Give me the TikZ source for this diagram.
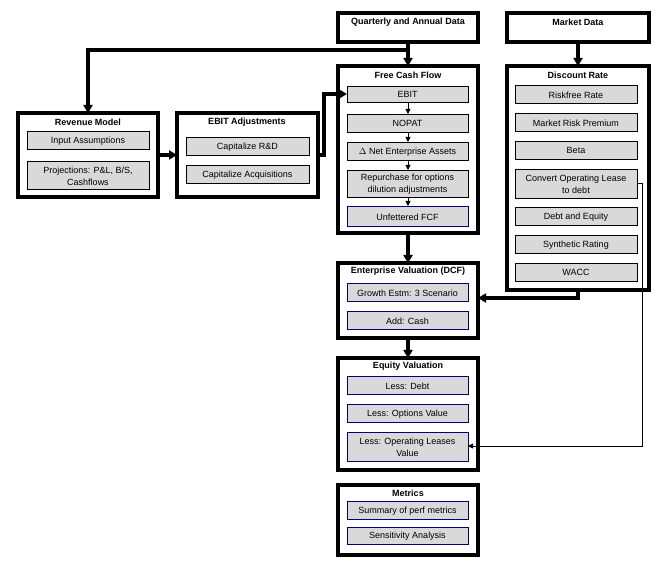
\documentclass[tikz,border=0pt]{standalone}
\usepackage{fontspec}
\setmainfont{Liberation Sans}
\usetikzlibrary{arrows.meta}
\begin{document}
\begin{tikzpicture}[x=1pt,y=-1pt,
  outer/.style={draw,line width=3.4pt},
  inner/.style={draw,fill=gray!30,line width=0.9pt},
  innerb/.style={draw=blue!45!black,fill=gray!30,line width=0.9pt},
  ttl/.style={font=\bfseries\fontsize{9}{11}\selectfont},
  txt/.style={font=\fontsize{9}{12}\selectfont,align=center},
  thick arr/.style={line width=3.4pt,-{Triangle[length=8pt,width=9pt]}},
  thin arr/.style={line width=0.9pt,-{Triangle[length=5pt,width=5pt]}}]
\useasboundingbox (0,0) rectangle (665,564);
% outer boxes
\draw[outer] (338,13) rectangle (478,42);
\node[ttl] (qat) at (408,22) {Quarterly and Annual Data};
\draw[outer] (507,13) rectangle (649,42);
\node[ttl] (mdt) at (578,22) {Market Data};
\draw[outer] (338,66) rectangle (478,233); \node[ttl] (fcft) at (408,75) {Free Cash Flow};
\draw[outer] (507,66) rectangle (649,290); \node[ttl] (drt) at (578,75) {Discount Rate};
\draw[outer] (18,113) rectangle (158,197); \node[ttl] (rmt) at (88,122) {Revenue Model};
\draw[outer] (177,113) rectangle (318,197); \node[ttl] (eat) at (247,122) {EBIT Adjustments};
\draw[outer] (338,263) rectangle (478,338); \node[ttl] (evt) at (408,271) {Enterprise Valuation (DCF)};
\draw[outer] (338,358) rectangle (478,470); \node[ttl] (eqt) at (408,366) {Equity Valuation};
\draw[outer] (338,485) rectangle (478,555); \node[ttl] (mt) at (408,493) {Metrics};
% inner boxes
\newcommand{\ib}[7]{\draw[#1] (#2,#3) rectangle (#4,#5); \node[txt] (#6) at ({(#2+#4)/2},{(#3+#5)/2+0.8}) {#7};}
\ib{inner}{347}{86}{468}{102}{ebit}{EBIT}
\ib{inner}{347}{114}{468}{132}{nopat}{NOPAT}
\ib{inner}{347}{142}{468}{160}{dnet}{$\Delta$ Net Enterprise Assets}
\ib{inner}{347}{170}{468}{197}{rep}{Repurchase for options\\dilution adjustments}
\ib{innerb}{347}{206}{468}{226}{ufcf}{Unfettered FCF}
\ib{inner}{515}{85}{637}{103}{rf}{Riskfree Rate}
\ib{inner}{515}{113}{637}{131}{mrp}{Market Risk Premium}
\ib{inner}{515}{141}{637}{159}{beta}{Beta}
\ib{inner}{515}{169}{637}{198}{col}{Convert Operating Lease\\to debt}
\ib{inner}{515}{207}{637}{225}{de}{Debt and Equity}
\ib{inner}{515}{235}{637}{253}{syn}{Synthetic Rating}
\ib{inner}{515}{263}{637}{281}{wacc}{WACC}
\ib{inner}{27}{131}{149}{149}{ia}{Input Assumptions}
\ib{inner}{27}{161}{149}{189}{proj}{Projections: P\&L, B/S,\\Cashflows}
\ib{inner}{186}{137}{309}{155}{crd}{Capitalize R\&D}
\ib{inner}{186}{165}{309}{183}{cacq}{Capitalize Acquisitions}
\ib{innerb}{347}{283}{468}{301}{grow}{Growth Estm: 3 Scenario}
\ib{innerb}{347}{311}{468}{329}{cash}{Add: Cash}
\ib{innerb}{347}{376}{468}{394}{ldebt}{Less: Debt}
\ib{innerb}{347}{404}{468}{422}{lopt}{Less: Options Value}
\ib{innerb}{347}{432}{468}{461}{lol}{Less: Operating Leases\\Value}
\ib{innerb}{347}{501}{468}{519}{sum}{Summary of perf metrics}
\ib{innerb}{347}{527}{468}{544}{sens}{Sensitivity Analysis}
% connectors
\draw[thick arr] (408,42) -- (408,66);
\draw[thick arr] (408,50) -- (88,50) -- (88,113);
\draw[thick arr] (578,42) -- (578,66);
\draw[thick arr] (158,155) -- (177,155);
\draw[thick arr] (318,155) -- (324,155) -- (324,94) -- (347,94);
\draw[thin arr] (408,102) -- (408,114);
\draw[thin arr] (408,132) -- (408,142);
\draw[thin arr] (408,160) -- (408,170);
\draw[thin arr] (408,197) -- (408,206);
\draw[thick arr] (408,233) -- (408,263);
\draw[thick arr] (578,290) -- (578,298) -- (478,298);
\draw[thick arr] (408,338) -- (408,358);
\draw[thin arr] (637,183) -- (642,183) -- (642,446) -- (468,446);
\end{tikzpicture}
\end{document}
